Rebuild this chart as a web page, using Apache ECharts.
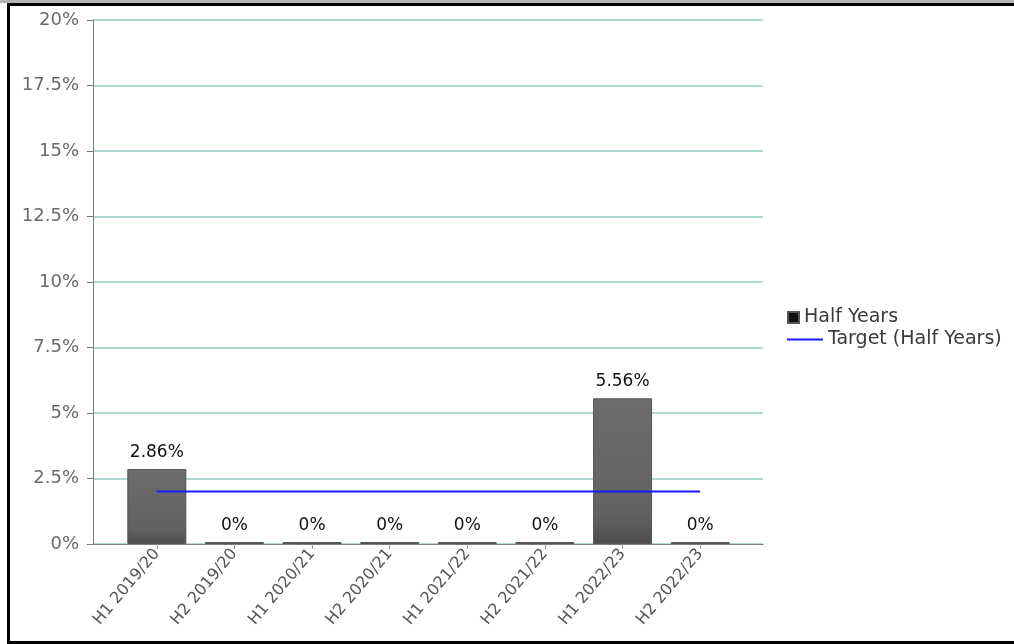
<!DOCTYPE html>
<html>
<head>
<meta charset="utf-8">
<script src="https://cdn.jsdelivr.net/npm/echarts@6/dist/echarts.min.js"></script>
<style>
  html, body { margin: 0; padding: 0; background: #fff; }
  body { width: 1014px; height: 644px; position: relative; overflow: hidden; }
  #topstrip { position: absolute; left: 0; top: 0; width: 1014px; height: 3px; background: #b4b4b4; }
  #frame { position: absolute; left: 7px; top: 3px; width: 1007px; height: 635px;
           border-left: 3px solid #000; border-top: 3px solid #000; border-bottom: 3px solid #000; box-sizing: content-box; }
  #chart { position: absolute; left: 0; top: 0; width: 1014px; height: 644px; }
</style>
</head>
<body>
<div id="topstrip"></div>
<div id="frame"></div>
<div id="chart"></div>
<script>
// Half-year periods and their results (%)
const categories = ['H1 2019/20', 'H2 2019/20', 'H1 2020/21', 'H2 2020/21',
                    'H1 2021/22', 'H2 2021/22', 'H1 2022/23', 'H2 2022/23'];
const halfYears = [2.86, 0, 0, 0, 0, 0, 5.56, 0];
const target = [2, 2, 2, 2, 2, 2, 2, 2];
const yTicks = { min: 0, max: 20, interval: 2.5 };

const FONT = 'DejaVu Sans';
const chart = echarts.init(document.getElementById('chart'), null, { renderer: 'canvas' });

chart.setOption({
  animation: false,
  backgroundColor: 'transparent',
  textStyle: { fontFamily: FONT },
  grid: [
    // frame grid: y axis, split lines and the full-width x axis line
    { left: 93, top: 20, width: 670, height: 524 },
    // data grid: category bands
    { left: 118, top: 20, width: 621, height: 524 }
  ],
  legend: [
    {
      orient: 'vertical', left: 782, top: 303,
      itemWidth: 11, itemHeight: 11, itemGap: 10,
      textStyle: { fontFamily: FONT, fontSize: 19, color: '#3a3a3a' },
      data: [{ name: 'Half Years', icon: 'rect', itemStyle: { color: '#111' } }]
    },
    {
      orient: 'vertical', left: 782, top: 325,
      itemWidth: 36, itemHeight: 14,
      textStyle: { fontFamily: FONT, fontSize: 19, color: '#3a3a3a' },
      data: [{ name: 'Target (Half Years)', icon: 'path://M0,6 L36,6 L36,8 L0,8 Z', itemStyle: { color: '#1a1aff' } }]
    }
  ],
  xAxis: [
    {
      gridIndex: 0, type: 'value', min: 0, max: 1,
      axisLine: { show: true, onZero: false, lineStyle: { color: '#7a7a7a', width: 1 } },
      axisTick: { show: false }, axisLabel: { show: false }, splitLine: { show: false }
    },
    {
      gridIndex: 1, type: 'category', data: categories, boundaryGap: true,
      axisLine: { show: false },
      axisTick: { show: true, alignWithLabel: true, length: 5, lineStyle: { color: '#999' } },
      axisLabel: { rotate: 50, fontFamily: FONT, fontSize: 16, color: '#555', margin: 7, interval: 0 }
    }
  ],
  yAxis: [
    {
      gridIndex: 0, type: 'value', min: yTicks.min, max: yTicks.max, interval: yTicks.interval,
      axisLine: { show: true, lineStyle: { color: '#7a7a7a' } },
      axisTick: { show: true, length: 6, lineStyle: { color: '#7a7a7a' } },
      axisLabel: { formatter: v => v + '%', fontFamily: FONT, fontSize: 18, color: '#6a6a6a', margin: 14 },
      splitLine: { show: true, lineStyle: { color: '#aadcd4', width: 2 } }
    },
    {
      gridIndex: 1, type: 'value', min: yTicks.min, max: yTicks.max, interval: yTicks.interval,
      show: false
    }
  ],
  series: [
    {
      name: 'Half Years', type: 'bar', xAxisIndex: 1, yAxisIndex: 1,
      data: halfYears, barWidth: 59, barMinHeight: 2,
      itemStyle: {
        color: new echarts.graphic.LinearGradient(0, 0, 0, 1, [
          { offset: 0, color: '#6c6c6c' },
          { offset: 0.8, color: '#626262' },
          { offset: 1, color: '#4c4c4c' }
        ]),
        borderColor: '#555', borderWidth: 1
      },
      label: {
        show: true, position: 'top', distance: 8,
        formatter: p => p.value + '%',
        fontFamily: FONT, fontSize: 17, color: '#111'
      },
      z: 2
    },
    {
      name: 'Target (Half Years)', type: 'line', xAxisIndex: 1, yAxisIndex: 1,
      data: target, symbol: 'none', showSymbol: false,
      lineStyle: { color: '#1a1aff', width: 2 },
      itemStyle: { color: '#1a1aff' },
      z: 3
    }
  ]
});
</script>
</body>
</html>
